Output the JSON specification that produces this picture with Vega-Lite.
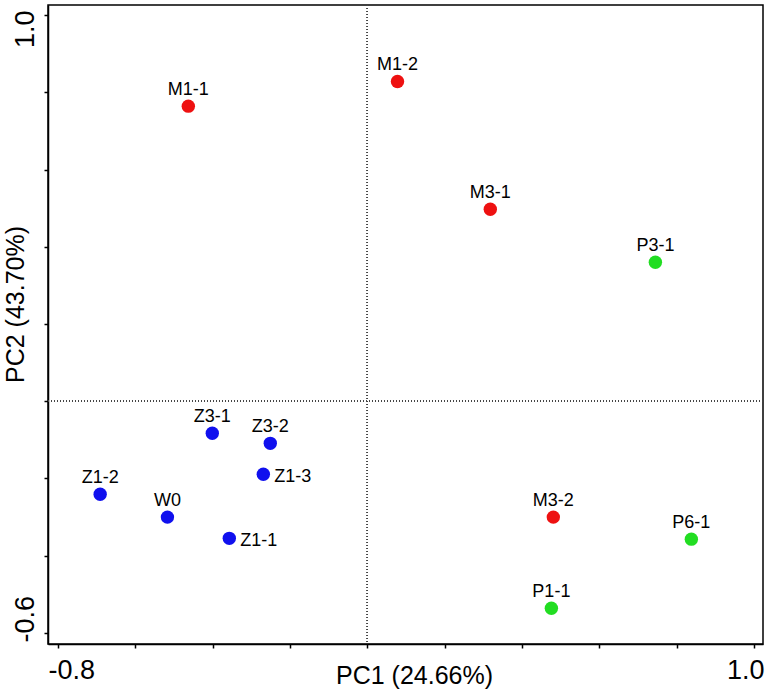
{
  "$schema": "https://vega.github.io/schema/vega-lite/v6.json",
  "width": 715,
  "height": 639,
  "autosize": "none",
  "padding": {"left": 48, "top": 5, "right": 7, "bottom": 51},
  "background": "white",
  "config": {
    "view": {"stroke": "black", "strokeWidth": 1.5},
    "font": "Liberation Sans"
  },
  "data": {
    "values": [
      {"name": "M1-1", "group": "M", "PC1": -0.463, "PC2": 0.764},
      {"name": "M1-2", "group": "M", "PC1": 0.078, "PC2": 0.828},
      {"name": "M3-1", "group": "M", "PC1": 0.318, "PC2": 0.497},
      {"name": "M3-2", "group": "M", "PC1": 0.481, "PC2": -0.300},
      {"name": "P3-1", "group": "P", "PC1": 0.745, "PC2": 0.360},
      {"name": "P6-1", "group": "P", "PC1": 0.838, "PC2": -0.357},
      {"name": "P1-1", "group": "P", "PC1": 0.476, "PC2": -0.536},
      {"name": "Z3-1", "group": "Z", "PC1": -0.401, "PC2": -0.083},
      {"name": "Z3-2", "group": "Z", "PC1": -0.251, "PC2": -0.109},
      {"name": "Z1-3", "group": "Z", "PC1": -0.269, "PC2": -0.189},
      {"name": "Z1-2", "group": "Z", "PC1": -0.691, "PC2": -0.241},
      {"name": "W0", "group": "Z", "PC1": -0.517, "PC2": -0.300},
      {"name": "Z1-1", "group": "Z", "PC1": -0.357, "PC2": -0.355}
    ]
  },
  "encoding": {
    "x": {
      "field": "PC1", "type": "quantitative",
      "scale": {"domain": [-0.8259, 1.0233], "nice": false, "zero": false},
      "axis": {
        "title": "PC1 (24.66%)",
        "values": [-0.8, -0.6, -0.4, -0.2, 0, 0.2, 0.4, 0.6, 0.8, 1.0],
        "labelExpr": "datum.value < -0.79 ? '-0.8' : (datum.value > 0.99 ? '1.0' : '')",
        "labelOverlap": false,
        "labelFlush": 15,
        "labelFlushOffset": 10,
        "labelFontSize": 27,
        "labelColor": "black",
        "labelPadding": 9,
        "labelFont": "Liberation Sans",
        "grid": false,
        "domainColor": "black",
        "domainWidth": 1.5,
        "tickColor": "black",
        "tickWidth": 1.5,
        "tickSize": 4,
        "titleFont": "Liberation Sans",
        "titleFontSize": 25,
        "titleFontWeight": "normal",
        "titleColor": "black",
        "titleX": 366,
        "titleY": 31,
        "titleAnchor": "middle",
        "titleAlign": "center",
        "titleBaseline": "middle"
      }
    },
    "y": {
      "field": "PC2", "type": "quantitative",
      "scale": {"domain": [-0.6285, 1.0259], "nice": false, "zero": false},
      "axis": {
        "title": "PC2 (43.70%)",
        "values": [-0.6, -0.4, -0.2, 0, 0.2, 0.4, 0.6, 0.8, 1.0],
        "labelExpr": "datum.value < -0.59 ? '-0.6' : (datum.value > 0.99 ? '1.0' : '')",
        "labelOverlap": false,
        "labelAngle": 270,
        "labelAlign": {"condition": {"test": "datum.value > 0.5", "value": "right"}, "value": "left"},
        "labelOffset": {"condition": {"test": "datum.value > 0.5", "value": -5}, "value": 9},
        "labelBaseline": "bottom",
        "labelFontSize": 27,
        "labelColor": "black",
        "labelPadding": 5,
        "labelFont": "Liberation Sans",
        "grid": false,
        "domainColor": "black",
        "domainWidth": 1.5,
        "tickColor": "black",
        "tickWidth": 1.5,
        "tickSize": 4,
        "titleFont": "Liberation Sans",
        "titleFontSize": 25,
        "titleFontWeight": "normal",
        "titleColor": "black",
        "titleAngle": 270,
        "titleX": -33,
        "titleY": 299,
        "titleAlign": "center",
        "titleBaseline": "middle"
      }
    }
  },
  "layer": [
    {
      "mark": {"type": "rule", "color": "#444444", "strokeWidth": 1, "strokeDash": [1, 2]},
      "encoding": {"x": {"datum": 0}, "y": null}
    },
    {
      "mark": {"type": "rule", "color": "#444444", "strokeWidth": 1, "strokeDash": [1, 2]},
      "encoding": {"y": {"datum": 0}, "x": null}
    },
    {
      "mark": {"type": "point", "filled": true, "size": 180, "opacity": 1},
      "encoding": {
        "color": {
          "field": "group", "type": "nominal",
          "scale": {"domain": ["M", "P", "Z"], "range": ["#ee1111", "#22dd22", "#1010ee"]},
          "legend": null
        }
      }
    },
    {
      "transform": [{"filter": {"not": {"field": "name", "oneOf": ["Z1-3", "Z1-1"]}}}],
      "mark": {"type": "text", "fontSize": 18, "font": "Liberation Sans", "color": "black", "dy": -16, "baseline": "middle", "align": "center"},
      "encoding": {"text": {"field": "name"}}
    },
    {
      "transform": [{"filter": {"field": "name", "oneOf": ["Z1-3", "Z1-1"]}}],
      "mark": {"type": "text", "fontSize": 18, "font": "Liberation Sans", "color": "black", "dx": 11, "dy": 3, "baseline": "middle", "align": "left"},
      "encoding": {"text": {"field": "name"}}
    }
  ]
}
